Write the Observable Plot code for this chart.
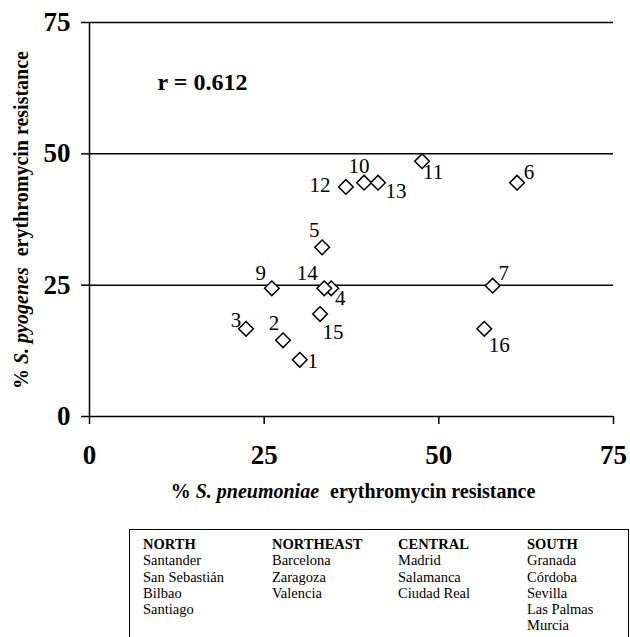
<!DOCTYPE html>
<html><head><meta charset="utf-8">
<script src="https://cdn.jsdelivr.net/npm/d3@7"></script>
<script src="https://cdn.jsdelivr.net/npm/@observablehq/plot@0.6"></script>
<style>
body{margin:0;background:#fff;}
#wrap{position:relative;width:630px;height:637px;overflow:hidden;font-family:"Liberation Serif",serif;background:#fff;}
#legend{position:absolute;left:129px;top:529px;width:500px;height:140px;border:1.5px solid #000;box-sizing:border-box;}
.col{position:absolute;top:6px;font-size:14.5px;line-height:16.3px;color:#000;}
.col .h{font-weight:bold;}
</style>
</head><body>
<div id="wrap"><div id="chart"></div><div id="legend"></div></div>
<script>
// Data
const ids = [1, 2, 3, 4, 5, 6, 7, 9, 10, 11, 12, 13, 14, 15, 16];
const pneumoniae = [30.1, 27.7, 22.4, 34.6, 33.3, 61.2, 57.7, 26.1, 39.3, 47.6, 36.7, 41.3, 33.6, 33.0, 56.5];
const pyogenes = [10.8, 14.5, 16.7, 24.4, 32.2, 44.5, 24.9, 24.4, 44.5, 48.6, 43.7, 44.5, 24.4, 19.5, 16.7];
const xTicks = [0, 25, 50, 75];
const yTicks = [0, 25, 50, 75];
const gridLines = [25, 50, 75];
const corrText = "r = 0.612";
const regionNames = ["NORTH", "NORTHEAST", "CENTRAL", "SOUTH"];
const northCities = ["Santander", "San Sebastián", "Bilbao", "Santiago"];
const northeastCities = ["Barcelona", "Zaragoza", "Valencia"];
const centralCities = ["Madrid", "Salamanca", "Ciudad Real"];
const southCities = ["Granada", "Córdoba", "Sevilla", "Las Palmas", "Murcia"];

// label placement offsets (px) around each marker
const labelOffset = {1:[13,2],2:[-9,-17],3:[-10,-9],4:[9,10],5:[-8,-17],6:[12,-10],7:[11,-12],
  9:[-11,-15],10:[-5,-16],11:[11,11],12:[-26,-2],13:[18,9],14:[-17,-15],15:[13,18],16:[15,16]};

const points = ids.map((id, i) => ({id, x: pneumoniae[i], y: pyogenes[i]}));

const W = 630, H = 520;
const chart = Plot.plot({
  width: W, height: H,
  marginLeft: 89, marginRight: 17, marginTop: 22, marginBottom: H - 416,
  style: {fontFamily: "Liberation Serif, serif", color: "#000", background: "#fff", overflow: "visible"},
  x: {domain: [0, 75]},
  y: {domain: [0, 75]},
  marks: [
    Plot.ruleY(gridLines, {stroke: "#000", strokeWidth: 1.5}),
    Plot.ruleY([0], {stroke: "#000", strokeWidth: 1.5}),
    Plot.ruleX([0], {y1: 0, y2: 75, stroke: "#000", strokeWidth: 1.5}),
    Plot.axisX({ticks: xTicks, tickSize: 8, tickPadding: 20, tickFormat: d => String(d), label: null,
      fontSize: 27, fontWeight: "bold", stroke: "#000", strokeWidth: 1.5}),
    Plot.axisY({ticks: yTicks, tickSize: 8, tickPadding: 11, tickFormat: d => String(d), label: null,
      fontSize: 27, fontWeight: "bold", stroke: "#000", strokeWidth: 1.5}),
    Plot.dot(points, {x: "x", y: "y", symbol: "diamond2", r: 6.6, stroke: "#000", strokeWidth: 1.5, fill: "#fff"}),
    ...points.map(p => Plot.text([p], {x: "x", y: "y", text: d => String(d.id),
      dx: labelOffset[p.id][0], dy: labelOffset[p.id][1], fontSize: 21, fill: "#000", lineAnchor: "middle"})),
    Plot.text([corrText], {text: d => d, frameAnchor: "top-left", dx: 68, dy: 60, textAnchor: "start",
      lineAnchor: "middle", fontSize: 24, fontWeight: "bold", fill: "#000"})
  ]
});
document.getElementById("chart").appendChild(chart);

// axis titles with mixed italic
const svg = d3.select(chart);
function title(sel, italicPart) {
  sel.attr("font-size", 20).attr("font-weight", "bold").attr("fill", "#000").attr("text-anchor", "middle")
    .attr("font-family", "Liberation Serif, serif").attr("dominant-baseline", "middle");
  sel.append("tspan").text("% ");
  sel.append("tspan").attr("font-style", "italic").text(italicPart);
  sel.append("tspan").attr("dx", 6).text(" erythromycin resistance");
}
title(svg.append("text").attr("x", 353).attr("y", 493), "S. pneumoniae");
title(svg.append("text").attr("transform", "translate(23,220) rotate(-90)"), "S. pyogenes");

// legend
const legend = document.getElementById("legend");
const cols = [northCities, northeastCities, centralCities, southCities];
const colLeft = [13, 142, 268, 397];
regionNames.forEach((name, i) => {
  const div = document.createElement("div");
  div.className = "col";
  div.style.left = colLeft[i] + "px";
  const h = document.createElement("div"); h.className = "h"; h.textContent = name; div.appendChild(h);
  cols[i].forEach(c => { const d = document.createElement("div"); d.textContent = c; div.appendChild(d); });
  legend.appendChild(div);
});
</script>
</body></html>
